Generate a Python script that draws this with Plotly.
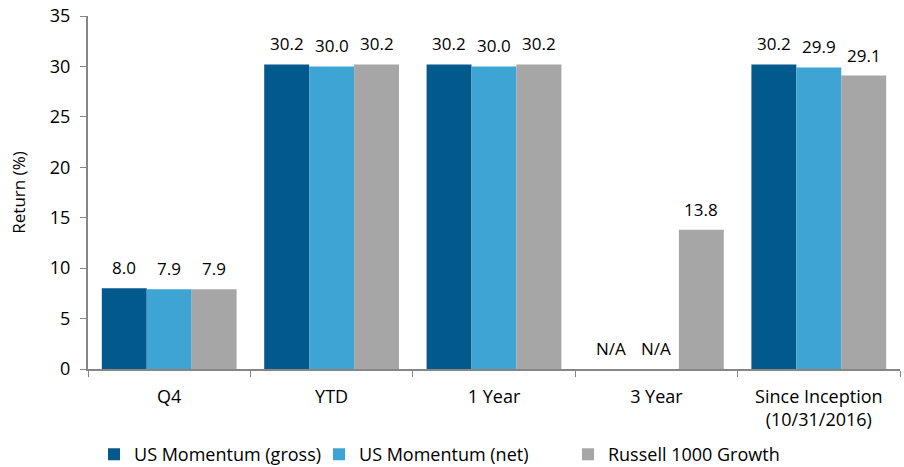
import plotly.graph_objects as go

categories = ["Q4", "YTD", "1 Year", "3 Year", "Since Inception<br>(10/31/2016)"]
series_names = ["US Momentum (gross)", "US Momentum (net)", "Russell 1000 Growth"]
gross = [8.0, 30.2, 30.2, None, 30.2]
net = [7.9, 30.0, 30.0, None, 29.9]
russell = [7.9, 30.2, 30.2, 13.8, 29.1]
colors = ["#02598C", "#3DA4D4", "#A6A6A6"]
y_ticks = [0, 5, 10, 15, 20, 25, 30, 35]

font_family = "Open Sans, Liberation Sans, sans-serif"
W, H = 904, 467
ML, MR, MT, MB = 88, 4, 16, 98
BARGAP = 0.17
legend_ids = ["legend", "legend2", "legend3"]
legend_x = [0.0074, 0.2845, 0.5911]

fig = go.Figure()
all_series = [gross, net, russell]
for name, vals, col, lid in zip(series_names, all_series, colors, legend_ids):
    yv = [0 if v is None else v for v in vals]
    fig.add_trace(go.Bar(
        x=categories, y=yv, name=name, marker_color=col,
        marker_line_width=0, hoverinfo="name+y", legend=lid,
    ))

# data labels as annotations placed over each bar
cat_px = (W - ML - MR) / len(categories)
bar_px = cat_px * (1 - BARGAP) / len(all_series)
annotations = []
for si, vals in enumerate(all_series):
    shift = (si - (len(all_series) - 1) / 2) * bar_px
    for ci, v in enumerate(vals):
        annotations.append(dict(
            x=categories[ci], y=0 if v is None else v, xref="x", yref="y",
            text="N/A" if v is None else f"{v:.1f}",
            showarrow=False, xshift=shift, yanchor="bottom", yshift=7,
            font=dict(size=17, color="#000000", family=font_family),
        ))

legend_common = dict(orientation="h", xanchor="left", y=-0.19, yanchor="top",
                     font=dict(size=18), itemwidth=30, bgcolor="rgba(0,0,0,0)")
layout_legends = {}
for lid, lx in zip(legend_ids, legend_x):
    layout_legends[lid] = dict(legend_common, x=lx)

fig.update_layout(
    width=W, height=H,
    margin=dict(l=ML, r=MR, t=MT, b=MB, autoexpand=False),
    paper_bgcolor="white", plot_bgcolor="white",
    barmode="group", bargap=BARGAP, bargroupgap=0,
    font=dict(family=font_family, size=17, color="#000000"),
    annotations=annotations,
    showlegend=True,
    **layout_legends,
)
fig.update_yaxes(range=[0, 35], tickvals=y_ticks, showgrid=False, showline=True,
                 linecolor="#868686", linewidth=2, ticks="outside", ticklen=6,
                 tickcolor="#868686", tickfont=dict(size=18),
                 ticklabelstandoff=6, automargin=False, ticklabeloverflow="allow",
                 title=dict(text="Return (%)", font=dict(size=17), standoff=20),
                 zeroline=False)
fig.update_xaxes(showgrid=False, showline=True, linecolor="#868686", linewidth=2,
                 ticks="outside", tickson="boundaries", ticklen=6, tickcolor="#868686",
                 tickfont=dict(size=18), ticklabelstandoff=10, automargin=False)

# remove the browser's default 8px body margin so the figure sits at the page origin
fig.write_html("out.html", config={"displayModeBar": False},
               post_script="document.body.style.margin='0';")
